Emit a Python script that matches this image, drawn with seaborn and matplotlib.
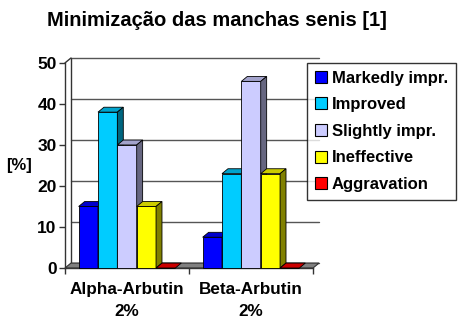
import matplotlib
matplotlib.use("Agg")
import matplotlib.pyplot as plt
from matplotlib.patches import Polygon
import matplotlib.colors as mcolors
import seaborn as sns
import pandas as pd

# ---- data ----
categories = ["Alpha-Arbutin\n2%", "Beta-Arbutin\n2%"]
series = ["Markedly impr.", "Improved", "Slightly impr.", "Ineffective", "Aggravation"]
alpha_values = [15, 38, 30, 15, 0]
beta_values = [7.5, 23, 45.5, 23, 0]
y_ticks = [0, 10, 20, 30, 40, 50]
title = "Minimização das manchas senis [1]"
y_label = "[%]"

colors = ["#0000FF", "#00CCFF", "#CCCCFF", "#FFFF00", "#FF0000"]

rows = []
for cat, vals in zip(categories, [alpha_values, beta_values]):
    for s, v in zip(series, vals):
        rows.append({"product": cat, "response": s, "value": v})
df = pd.DataFrame(rows)

sns.set_style("white")
plt.rcParams["font.family"] = ["Liberation Sans", "DejaVu Sans"]
plt.rcParams["font.weight"] = "bold"
plt.rcParams["text.color"] = "black"
plt.rcParams["xtick.color"] = "black"
plt.rcParams["ytick.color"] = "black"
plt.rcParams["axes.labelcolor"] = "black"

W, H = 470, 333
fig = plt.figure(figsize=(W / 100, H / 100), dpi=100)
ax = fig.add_axes([65 / W, (H - 268) / H, 254 / W, 210 / H])

dx, dy = 0.048, 1.2  # depth offsets for the 3D look (data units)

sns.barplot(data=df, x="product", y="value", hue="response", order=categories,
            hue_order=series, palette=colors, width=0.78, edgecolor="black",
            linewidth=0.6, saturation=1, ax=ax, legend=True)

ax.set_xlim(-0.5, 1.5 + dx)
ax.set_ylim(0, 50 + dy)

# back wall gridlines
for t in y_ticks:
    ax.plot([-0.5 + dx, 1.5 + dx], [t + dy, t + dy], color="#555555", lw=1.0,
            zorder=0.5, clip_on=False)
ax.plot([-0.5 + dx, -0.5 + dx], [dy, 50 + dy], color="#333333", lw=1.0, zorder=0.5, clip_on=False)
ax.plot([-0.5, -0.5 + dx], [50, 50 + dy], color="#333333", lw=1.0, zorder=0.5, clip_on=False)

bars = sorted([p for p in ax.patches if p.get_width() > 0], key=lambda p: p.get_x())

# floor
floor = Polygon([(-0.5, 0), (1.5, 0), (1.5 + dx, dy), (-0.5 + dx, dy)], closed=True,
                facecolor="#808080", edgecolor="#333333", lw=0.8, zorder=0.8, clip_on=False)
ax.add_patch(floor)


def shade(c, f):
    r, g, b = mcolors.to_rgb(c)
    return (r * f, g * f, b * f)


for i, p in enumerate(bars):
    x0 = p.get_x()
    w = p.get_width()
    h = p.get_height()
    fc = p.get_facecolor()
    z = 2 + i
    p.set_zorder(z)
    p.set_clip_on(False)
    top = Polygon([(x0, h), (x0 + w, h), (x0 + w + dx, h + dy), (x0 + dx, h + dy)],
                  closed=True, facecolor=shade(fc, 0.8), edgecolor="black", lw=0.6,
                  zorder=z + 0.1, clip_on=False)
    ax.add_patch(top)
    if h > 0:
        side = Polygon([(x0 + w, 0), (x0 + w + dx, dy), (x0 + w + dx, h + dy), (x0 + w, h)],
                       closed=True, facecolor=shade(fc, 0.5), edgecolor="black", lw=0.6,
                       zorder=z + 0.1, clip_on=False)
        ax.add_patch(side)

# spines and ticks
for s in ["top", "right"]:
    ax.spines[s].set_visible(False)
ax.spines["left"].set_bounds(0, 50)
ax.spines["bottom"].set_bounds(-0.5, 1.5)
for s in ["left", "bottom"]:
    ax.spines[s].set_color("#333333")
    ax.spines[s].set_linewidth(1.0)
    ax.spines[s].set_zorder(1)

ax.set_yticks(y_ticks)
ax.set_yticklabels([str(t) for t in y_ticks], fontsize=12.5, fontweight="bold")
ax.tick_params(axis="y", direction="out", length=4, width=1, color="#333333", pad=2, left=True)
ax.set_xticks([0, 1])
ax.set_xticklabels(categories, fontsize=12.3, fontweight="bold", linespacing=1.6)
ax.tick_params(axis="x", length=0, pad=10)
ax.set_xticks([-0.5, 0.5, 1.5], minor=True)
ax.tick_params(axis="x", which="minor", direction="out", length=4, width=1,
               color="#333333", bottom=True)
ax.set_xlabel("")
ax.set_ylabel("")
ax.grid(False)

fig.text(19 / W, 1 - 165 / H, y_label, ha="center", va="center", fontsize=12, fontweight="bold")
fig.text(217 / W, 1 - 20 / H, title, ha="center", va="center", fontsize=14.5, fontweight="bold")

leg = ax.legend(loc="upper left", bbox_to_anchor=(307 / W, 1 - 63 / H),
                bbox_transform=fig.transFigure, borderaxespad=0, frameon=True,
                fancybox=False, shadow=False, prop={"size": 12, "weight": "bold"},
                handlelength=0.75, handleheight=0.75, handletextpad=0.3,
                labelspacing=0.7, borderpad=0.45, title=None)
leg.get_frame().set_edgecolor("black")
leg.get_frame().set_linewidth(1.0)
leg.set_zorder(100)
for h in leg.legend_handles:
    h.set_edgecolor("black")
    h.set_linewidth(0.8)

fig.savefig("out.png", dpi=100)
